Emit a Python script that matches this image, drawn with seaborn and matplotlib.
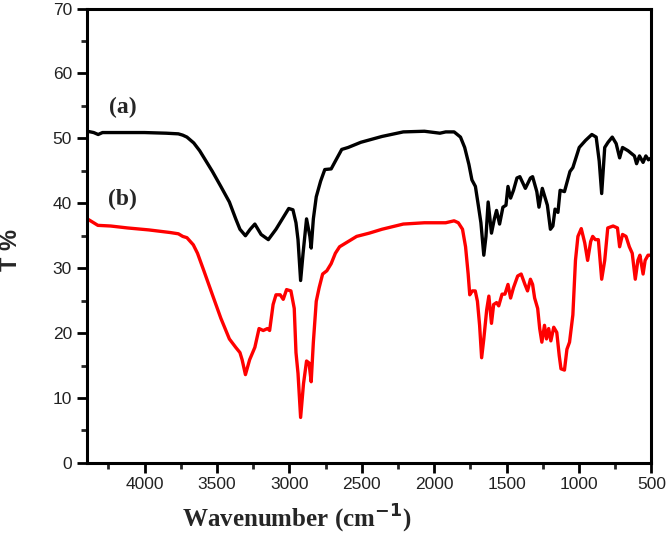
import numpy as np
import pandas as pd
import matplotlib
matplotlib.use("Agg")
import matplotlib.pyplot as plt
import seaborn as sns
from matplotlib.ticker import MultipleLocator

# Spectrum (a) - black
wn_a = [4395, 4351, 4320, 4290, 4200, 4000, 3850, 3766, 3736, 3707, 3660, 3619, 3531, 3473, 3414, 3370,
        3341, 3303, 3270, 3238, 3195, 3145, 3092, 3048, 3004, 2975, 2954, 2940, 2922, 2905, 2881,
        2858, 2849, 2834, 2814, 2784, 2755, 2711, 2682, 2638, 2594, 2506, 2360, 2213, 2067, 1960,
        1920, 1862, 1818, 1789, 1760, 1739, 1715, 1695, 1677, 1657, 1642, 1627, 1604, 1584, 1569,
        1548, 1525, 1504, 1490, 1472, 1452, 1428, 1408, 1370, 1335, 1320, 1291, 1276, 1253, 1218,
        1197, 1180, 1165, 1145, 1130, 1100, 1062, 1042, 998, 954, 911, 881, 860, 843, 822, 799,
        770, 743, 719, 699, 661, 617, 602, 582, 557, 538, 520, 500]
t_a = [51.1, 50.9, 50.6, 50.9, 50.9, 50.9, 50.8, 50.7, 50.5, 50.2, 49.3, 48.1, 44.9, 42.6, 40.2, 37.6,
       36.0, 35.0, 36.0, 36.8, 35.2, 34.4, 36.0, 37.6, 39.2, 39.0, 37.0, 34.4, 28.1, 32.3, 37.6,
       34.9, 33.1, 37.6, 41.0, 43.4, 45.2, 45.3, 46.5, 48.3, 48.6, 49.4, 50.3, 51.0, 51.1, 50.8,
       51.0, 51.0, 50.2, 48.6, 46.0, 43.6, 42.6, 39.7, 37.0, 32.0, 34.9, 40.2, 35.4, 37.6, 38.9,
       36.8, 39.4, 39.7, 42.6, 40.8, 42.0, 43.9, 44.1, 42.3, 43.9, 44.1, 41.8, 39.4, 42.3, 39.7,
       36.0, 36.5, 39.1, 38.6, 42.0, 41.8, 44.9, 45.5, 48.6, 49.7, 50.6, 50.2, 46.5, 41.5, 48.6, 49.4,
       50.2, 49.2, 47.0, 48.6, 48.1, 47.3, 46.1, 47.3, 46.3, 47.3, 46.7, 47.0]

# Spectrum (b) - red
wn_b = [4395, 4351, 4322, 4234, 4117, 3971, 3824, 3766, 3736, 3707, 3663, 3634, 3590, 3531, 3473, 3414,
        3370, 3341, 3326, 3303, 3274, 3238, 3209, 3180, 3151, 3136, 3112, 3092, 3063, 3042, 3019,
        2989, 2966, 2954, 2940, 2922, 2902, 2881, 2864, 2849, 2834, 2814, 2794, 2770, 2741, 2711,
        2682, 2653, 2594, 2535, 2448, 2360, 2213, 2067, 1920, 1862, 1833, 1804, 1783, 1765, 1754,
        1736, 1716, 1701, 1686, 1672, 1657, 1637, 1622, 1604, 1589, 1569, 1554, 1531, 1511, 1490,
        1472, 1452, 1423, 1399, 1373, 1355, 1335, 1320, 1306, 1285, 1271, 1256, 1238, 1224, 1209,
        1194, 1174, 1153, 1136, 1124, 1100, 1083, 1065, 1042, 1024, 1007, 984, 960, 940, 919, 905,
        887, 866, 852, 843, 822, 801, 764, 734, 719, 699, 675, 652, 632, 611, 593, 579, 557, 543,
        523, 500]
t_b = [37.6, 37.0, 36.6, 36.5, 36.2, 35.9, 35.5, 35.3, 34.9, 34.7, 33.6, 32.3, 29.6, 25.9, 22.3, 19.1,
       17.8, 17.0, 15.9, 13.6, 15.9, 17.8, 20.7, 20.4, 20.7, 20.4, 24.4, 25.9, 25.9, 25.2, 26.7,
       26.5, 23.8, 17.0, 13.8, 7.0, 12.2, 15.7, 15.4, 12.5, 18.6, 24.9, 27.0, 29.1, 29.6, 30.7,
       32.3, 33.3, 34.1, 34.9, 35.4, 36.0, 36.8, 37.0, 37.0, 37.3, 37.0, 36.0, 33.3, 29.1, 25.9,
       26.5, 26.5, 24.9, 21.2, 16.2, 19.1, 23.6, 25.7, 21.5, 24.4, 24.7, 24.2, 26.0, 26.0, 27.5,
       25.4, 27.0, 28.8, 29.1, 27.5, 26.5, 28.3, 27.5, 25.4, 23.8, 20.7, 18.6, 21.2, 19.1, 20.7,
       18.8, 20.9, 20.1, 16.5, 14.5, 14.3, 17.5, 18.6, 22.8, 31.2, 34.9, 36.1, 33.9, 31.2, 34.1, 34.9,
       34.4, 34.4, 30.7, 28.3, 31.2, 36.2, 36.5, 36.2, 33.3, 35.2, 34.9, 33.3, 32.3, 28.3, 31.2, 32.0,
       29.1, 31.2, 32.0, 32.0]

labels = ["(a)", "(b)"]
label_pos_x = [4150, 4150]
label_pos_y = [54.7, 40.6]

df_a = pd.DataFrame({"wn": wn_a, "T": t_a})
df_b = pd.DataFrame({"wn": wn_b, "T": t_b})

sns.set_theme(style="white")
plt.rcParams["font.family"] = ["Liberation Sans", "DejaVu Sans"]

fig = plt.figure(figsize=(6.66, 5.37), dpi=100)
ax = fig.add_axes([0.130, 0.138, 0.848, 0.846])

sns.lineplot(data=df_a, x="wn", y="T", color="black", lw=2.4, ax=ax, sort=False)
sns.lineplot(data=df_b, x="wn", y="T", color="#ff0000", lw=2.4, ax=ax, sort=False)

ax.set_xlim(4400, 500)
ax.set_ylim(0, 70)
ax.xaxis.set_major_locator(MultipleLocator(500))
ax.xaxis.set_minor_locator(MultipleLocator(250))
ax.yaxis.set_major_locator(MultipleLocator(10))
ax.yaxis.set_minor_locator(MultipleLocator(5))

for s in ax.spines.values():
    s.set_visible(True)
    s.set_color("black")
    s.set_linewidth(2.2)

ax.tick_params(axis="both", which="major", direction="out", length=7, width=2,
               labelsize=12.5, color="black", labelcolor="#222222",
               bottom=True, left=True, top=False, right=False)
ax.tick_params(axis="both", which="minor", direction="out", length=4, width=2,
               bottom=True, left=True, top=False, right=False)

ax.set_xlabel("Wavenumber (cm$^{\\mathbf{-1}}$)", fontsize=18, fontweight="bold",
              family=["Liberation Serif"])
ax.xaxis.set_label_coords(0.372, -0.088)
ax.set_ylabel("T %", fontsize=17, fontweight="bold")
ax.yaxis.set_label_coords(-0.115, 0.468)

for lab, xx, yy in zip(labels, label_pos_x, label_pos_y):
    ax.text(xx, yy, lab, fontsize=17, fontweight="bold", family=["Liberation Serif"],
            ha="center", va="center")

fig.savefig("out.png", dpi=100)
